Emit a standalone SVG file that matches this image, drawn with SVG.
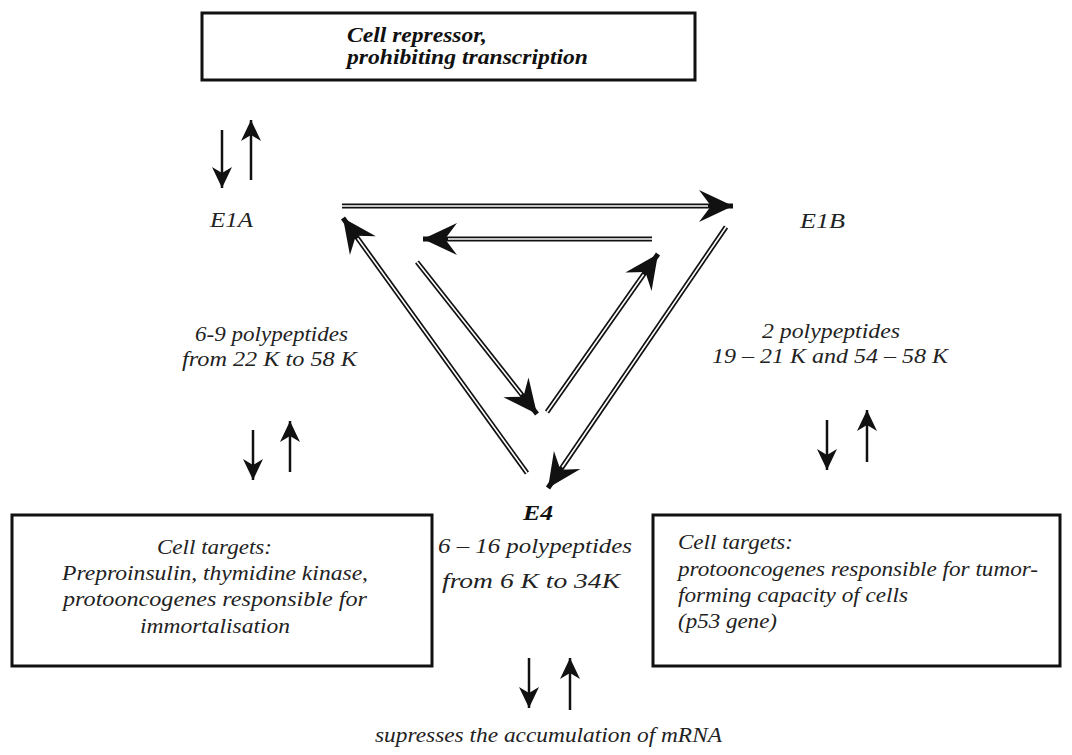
<svg xmlns="http://www.w3.org/2000/svg" width="1072" height="755" viewBox="0 0 1072 755">
<style>
.box{fill:#fff;stroke:#111;stroke-width:3}
.t{font-style:italic;fill:#222;font-size:20px}
.b{font-weight:bold;fill:#111}
.dl{fill:none;stroke:#111;stroke-width:5}
.dw{fill:none;stroke:#fff;stroke-width:1.6}
.thin{fill:none;stroke:#111;stroke-width:2.5}
</style>
<defs>
<marker id="big" markerUnits="userSpaceOnUse" markerWidth="40" markerHeight="40" viewBox="-36 -18 40 36" refX="0" refY="0" orient="auto">
<path d="M0,0 L-34,-16 L-22,0 L-34,16 Z" fill="#111"/>
</marker>
<marker id="small" markerUnits="userSpaceOnUse" markerWidth="26" markerHeight="26" viewBox="-24 -12 26 24" refX="0" refY="0" orient="auto">
<path d="M0,0 L-21,-10 L-15,0 L-21,10 Z" fill="#111"/>
</marker>
</defs>
<rect width="1072" height="755" fill="#fff"/>
<g font-family="Liberation Serif, Times New Roman, serif">
<g id="repressor">
<rect class="box" x="202" y="13" width="493" height="67"/>
<text class="t b" x="347" y="42" textLength="140" lengthAdjust="spacingAndGlyphs">Cell repressor,</text>
<text class="t b" x="347" y="64" textLength="241" lengthAdjust="spacingAndGlyphs">prohibiting transcription</text>
</g>

<g id="E1A">
<text class="t" x="210" y="227" font-size="21" textLength="43" lengthAdjust="spacingAndGlyphs">E1A</text>
<text class="t" x="195" y="341" textLength="153" lengthAdjust="spacingAndGlyphs">6-9 polypeptides</text>
<text class="t" x="182" y="366" textLength="175" lengthAdjust="spacingAndGlyphs">from 22 K to 58  K</text>
</g>

<g id="E1B">
<text class="t" x="800" y="228" font-size="21" textLength="45" lengthAdjust="spacingAndGlyphs">E1B</text>
<text class="t" x="762" y="338" textLength="138" lengthAdjust="spacingAndGlyphs">2 polypeptides</text>
<text class="t" x="712" y="363" textLength="236" lengthAdjust="spacingAndGlyphs">19 – 21 K and 54 –  58 K</text>
</g>

<g id="E4">
<text class="t b" x="523" y="520" font-size="21" textLength="30" lengthAdjust="spacingAndGlyphs">E4</text>
<text class="t" x="438" y="553" font-size="21" textLength="194" lengthAdjust="spacingAndGlyphs">6 – 16  polypeptides</text>
<text class="t" x="442" y="588" font-size="21" textLength="178" lengthAdjust="spacingAndGlyphs">from 6 K to 34K</text>
</g>

<g id="targets-left">
<rect class="box" x="12" y="515" width="420" height="151"/>
<text class="t" x="157" y="554" textLength="115" lengthAdjust="spacingAndGlyphs">Cell targets:</text>
<text class="t" x="62" y="580" textLength="306" lengthAdjust="spacingAndGlyphs">Preproinsulin, thymidine kinase,</text>
<text class="t" x="63" y="606" textLength="304" lengthAdjust="spacingAndGlyphs">protooncogenes responsible for</text>
<text class="t" x="140" y="633" textLength="150" lengthAdjust="spacingAndGlyphs">immortalisation</text>
</g>

<g id="targets-right">
<rect class="box" x="653" y="515" width="407" height="151"/>
<text class="t" x="678" y="549" textLength="115" lengthAdjust="spacingAndGlyphs">Cell targets:</text>
<text class="t" x="678" y="576" textLength="360" lengthAdjust="spacingAndGlyphs">protooncogenes responsible for tumor-</text>
<text class="t" x="678" y="602" textLength="230" lengthAdjust="spacingAndGlyphs">forming capacity of cells</text>
<text class="t" x="678" y="628" textLength="99" lengthAdjust="spacingAndGlyphs">(p53 gene)</text>
</g>

<g id="mrna">
<text class="t" x="375" y="742" font-size="21" textLength="347" lengthAdjust="spacingAndGlyphs">supresses the accumulation of mRNA</text>
</g>
</g>
<g id="connectors">
<path class="dl" d="M342,206 L733,206" marker-end="url(#big)"/>
<path class="dw" d="M342,206 L708,206"/>
<path class="dl" d="M652,239 L423,239" marker-end="url(#big)"/>
<path class="dw" d="M652,239 L448,239"/>
<path class="dl" d="M527,473 L343,218" marker-end="url(#big)"/>
<path class="dw" d="M527,473 L357.6,238.3"/>
<path class="dl" d="M417,262 L537,414" marker-end="url(#big)"/>
<path class="dw" d="M417,262 L521.5,394.4"/>
<path class="dl" d="M547,412 L658,254" marker-end="url(#big)"/>
<path class="dw" d="M547,412 L643.6,274.5"/>
<path class="dl" d="M726,227 L548,488" marker-end="url(#big)"/>
<path class="dw" d="M726,227 L562.1,467.3"/>
<path class="thin" d="M222,130 L222,188" marker-end="url(#small)"/>
<path class="thin" d="M251,180 L251,120" marker-end="url(#small)"/>
<path class="thin" d="M253,430 L253,480" marker-end="url(#small)"/>
<path class="thin" d="M290,472 L290,421" marker-end="url(#small)"/>
<path class="thin" d="M827,420 L827,470" marker-end="url(#small)"/>
<path class="thin" d="M867,462 L867,410" marker-end="url(#small)"/>
<path class="thin" d="M529,658 L529,708" marker-end="url(#small)"/>
<path class="thin" d="M570,710 L570,658" marker-end="url(#small)"/>
</g>
</svg>
